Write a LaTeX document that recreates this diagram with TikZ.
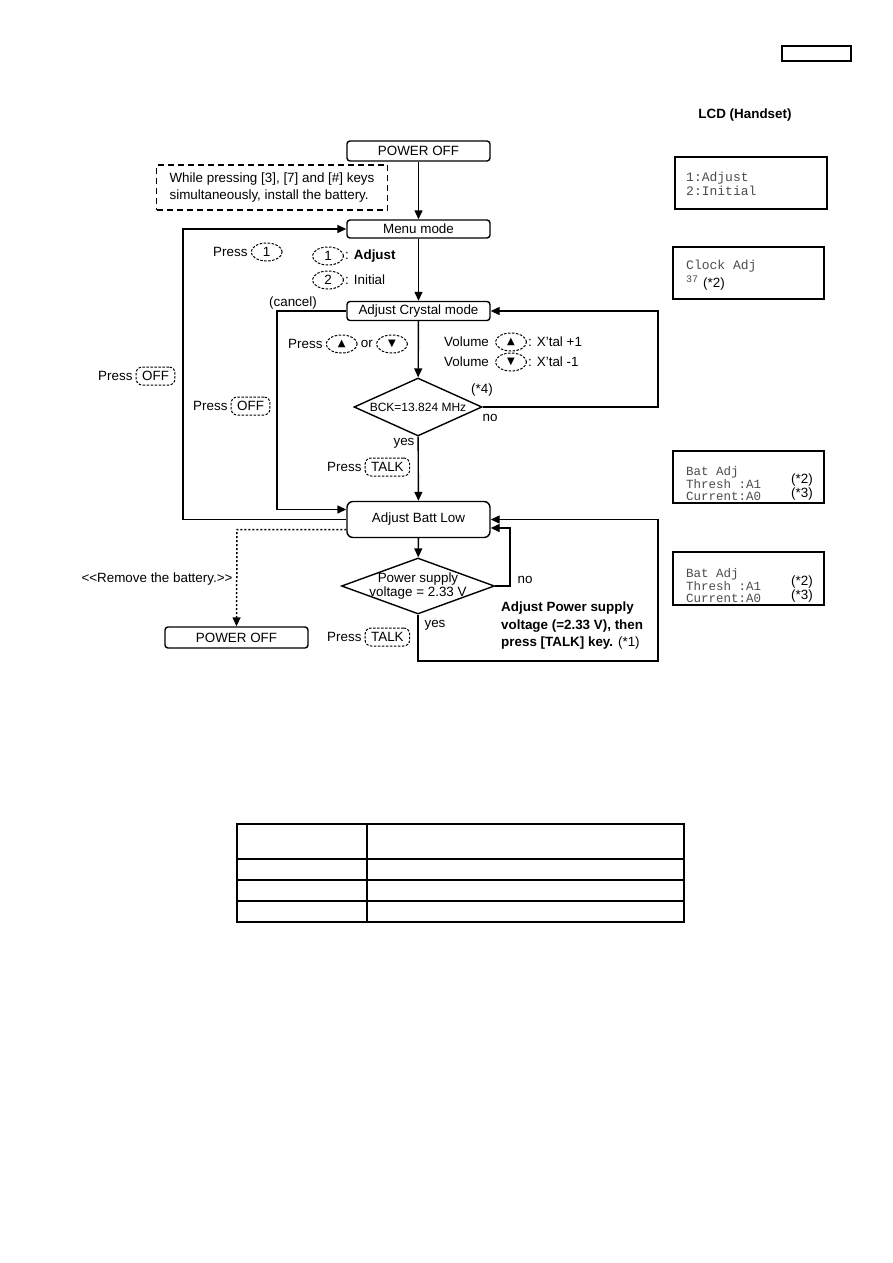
\documentclass[tikz,border=0pt]{standalone}
\usepackage{fontspec}
\setmainfont{Liberation Sans}
\newfontfamily\lcdfont{Liberation Mono}
\newfontfamily\symfont{DejaVu Sans}
\usetikzlibrary{arrows.meta,shapes.geometric,calc}
\newcommand\mainfs{\fontsize{13.4}{16}\selectfont}
\newcommand\up{{\symfont\fontsize{10}{10}\selectfont ▲}}
\newcommand\dn{{\symfont\fontsize{10}{10}\selectfont ▼}}
\begin{document}
\begin{tikzpicture}[x=1pt,y=-1pt,
  every node/.style={font=\mainfs},
  stbox/.style={draw, line width=1.4pt, rounded corners=3pt, minimum width=143pt, inner sep=0pt},
  notebox/.style={draw, line width=1.4pt, dash pattern=on 6pt off 4pt, minimum width=231pt, minimum height=45pt, align=left, inner sep=0pt, font=\fontsize{13.4}{17}\selectfont},
  dec/.style={draw, diamond, line width=1.4pt, inner sep=-20pt, aspect=2.5},
  arr/.style={line width=1.4pt, -{Triangle[length=9pt,width=8pt]}},
  keyo/.style={draw, ellipse, line width=1pt, dash pattern=on 2.5pt off 1.5pt, minimum width=31pt, minimum height=18pt, inner sep=0pt},
  keyr/.style={draw, line width=1pt, dash pattern=on 2.5pt off 1.5pt, rounded corners=6pt, minimum height=18pt, inner xsep=6pt, inner ysep=0pt},
  lbl/.style={inner sep=0pt},
  lcdbox/.style={draw, line width=1.5pt, minimum width=151pt, minimum height=52pt, inner sep=0pt},
  lcdtxt/.style={inner sep=0pt, anchor=west, align=left, text=black!70, font=\lcdfont\fontsize{12.5}{12.5}\selectfont}
]
\useasboundingbox (0,0) rectangle (893,1263);

% page tag box
\node[draw, line width=1.2pt, minimum width=69pt, minimum height=15pt, inner sep=0pt] (tag) at (816.5,53.5) {};

% main flow
\node[stbox, minimum height=20pt] (pwr1) at (418.5,151) {POWER OFF};
\node[notebox] (note) at (272,187.5) {While pressing [3], [7] and [\#] keys\\simultaneously, install the battery.};
\node[stbox, minimum height=18pt] (menu) at (418.5,229) {Menu mode};
\node[stbox, minimum height=19pt] (crys) at (418.5,311) {Adjust Crystal mode};
\node[dec, minimum width=128pt, minimum height=58pt, font=\fontsize{12}{14}\selectfont] (d1) at (418,407) {BCK=13.824 MHz};
\node[stbox, minimum height=36pt, rounded corners=6pt] (batt) at (418.5,519.5) {Adjust Batt Low};
\node[dec, minimum width=153pt, minimum height=56pt, align=center, font=\fontsize{13.4}{14.5}\selectfont] (d2) at (418,586) {Power supply\\voltage = 2.33 V};
\node[stbox, minimum height=21pt] (pwr2) at (236.5,637.5) {POWER OFF};

% connectors
\draw[arr] (pwr1) -- (menu);
\draw[arr] (menu) -- (crys);
\draw[arr] (crys) -- (d1);
\draw[arr] (d1) -- (batt);
\draw[arr] (batt) -- (d2);
\coordinate (c1) at (658,407);
\draw[arr] (d1.east) -- (c1) |- (crys.east);
\coordinate (c2) at (183,519.5);
\draw[arr] (batt.west) -- (c2) |- (menu.west);
\coordinate (c3) at (277,311);
\draw[arr] (crys.west) -- (c3) |- ($(batt.west)+(0,-10)$);
\coordinate (c4) at (510,586);
\draw[arr] (d2.east) -- (c4) |- ($(batt.east)+(0,8.5)$);
\coordinate (c5) at (418,661);
\coordinate (c6) at (658,661);
\draw[arr] (d2.south) -- (c5) -- (c6) |- (batt.east);
\coordinate (c7) at (237,529.5);
\draw[line width=1.5pt, dash pattern=on 2pt off 2pt, -{Triangle[length=9pt,width=8pt]}] ($(batt.west)+(0,10)$) -- (c7) -- (pwr2.north);

% labels
\node[lbl, anchor=west] (p1) at (213,252) {Press};
\node[keyo, anchor=west] (k1) at ([xshift=3pt]p1.east) {1};
\node[keyo] (k1a) at (328,256) {1};
\node[lbl, anchor=west] (t1a) at ([xshift=1pt]k1a.east) {: \textbf{Adjust}};
\node[keyo] (k2a) at (328,280) {2};
\node[lbl, anchor=west] (t2a) at ([xshift=1pt]k2a.east) {: Initial};

\node[lbl] (cancel) at (293,303) {(cancel)};

\node[lbl, anchor=west] (p2) at (288,344) {Press};
\node[keyo, anchor=west] (kup) at ([xshift=3pt]p2.east) {\up};
\node[lbl, anchor=west] (or) at ([xshift=3pt]kup.east) {or};
\node[keyo, anchor=west] (kdn) at ([xshift=3pt]or.east) {\dn};

\node[lbl, anchor=west] (v1) at (444,342) {Volume};
\node[keyo] (kv1) at (511,342) {\up};
\node[lbl, anchor=west] (x1) at ([xshift=1pt]kv1.east) {: X'tal +1};
\node[lbl, anchor=west] (v2) at (444,362) {Volume};
\node[keyo] (kv2) at (511,362) {\dn};
\node[lbl, anchor=west] (x2) at ([xshift=1pt]kv2.east) {: X'tal -1};

\node[lbl, anchor=west] (p3) at (98,376) {Press};
\node[keyr, anchor=west] (koff1) at ([xshift=3pt]p3.east) {OFF};
\node[lbl, anchor=west] (p4) at (193,406) {Press};
\node[keyr, anchor=west] (koff2) at ([xshift=3pt]p4.east) {OFF};

\node[lbl] (star4) at (482,390) {(*4)};
\node[lbl] (no1) at (490,418) {no};
\node[lbl] (yes1) at (404,443) {yes};
\node[lbl, anchor=west] (p5) at (327,467) {Press};
\node[keyr, anchor=west] (ktalk1) at ([xshift=3pt]p5.east) {TALK};

\node[lbl] (rem) at (157,579) {<\kern0pt<Remove the battery.>\kern0pt>};
\node[lbl] (no2) at (525,580) {no};
\node[lbl] (yes2) at (435,625) {yes};
\node[lbl, anchor=west] (p6) at (327,637) {Press};
\node[keyr, anchor=west] (ktalk2) at ([xshift=3pt]p6.east) {TALK};
\node[lbl, anchor=west, align=left, font=\fontsize{13.4}{17.5}\selectfont] (adj) at (501,626) {\textbf{Adjust Power supply}\\\textbf{voltage (=2.33 V), then}\\\textbf{press [TALK] key.} (*1)};

% LCD column
\node[lbl] (lcdt) at (745,115) {\textbf{LCD (Handset)}};
\node[lcdbox, minimum width=152pt] (lcd1) at (751,183) {};
\node[lcdtxt, font=\lcdfont\fontsize{13}{14}\selectfont] (lcd1t) at (686,184) {1:Adjust\\2:Initial};
\node[lcdbox] (lcd2) at (748.5,273) {};
\node[lcdtxt, font=\lcdfont\fontsize{13}{14}\selectfont] (lcd2t) at (686,266) {Clock Adj};
\node[lcdtxt, font=\lcdfont\fontsize{10}{10}\selectfont] (lcd2n) at (686,279) {37};
\node[lbl, anchor=west] (lcd2s) at (703,284) {(*2)};
\node[lcdbox] (lcd3) at (748.5,477) {};
\node[lcdtxt] (lcd3t) at (686,484) {Bat Adj\\Thresh :A1\\Current:A0};
\node[lbl] (lcd3a) at (802,480) {(*2)};
\node[lbl] (lcd3b) at (802,494) {(*3)};
\node[lcdbox, minimum height=53pt] (lcd4) at (748.5,578.5) {};
\node[lcdtxt] (lcd4t) at (686,586) {Bat Adj\\Thresh :A1\\Current:A0};
\node[lbl] (lcd4a) at (802,582) {(*2)};
\node[lbl] (lcd4b) at (802,596) {(*3)};

% empty table
\draw[line width=1.2pt] (237,824) rectangle (684,922);
\draw[line width=1.2pt] (367,824) -- (367,922);
\draw[line width=1.2pt] (237,859) -- (684,859);
\draw[line width=1.2pt] (237,880) -- (684,880);
\draw[line width=1.2pt] (237,901) -- (684,901);
\end{tikzpicture}
\end{document}
